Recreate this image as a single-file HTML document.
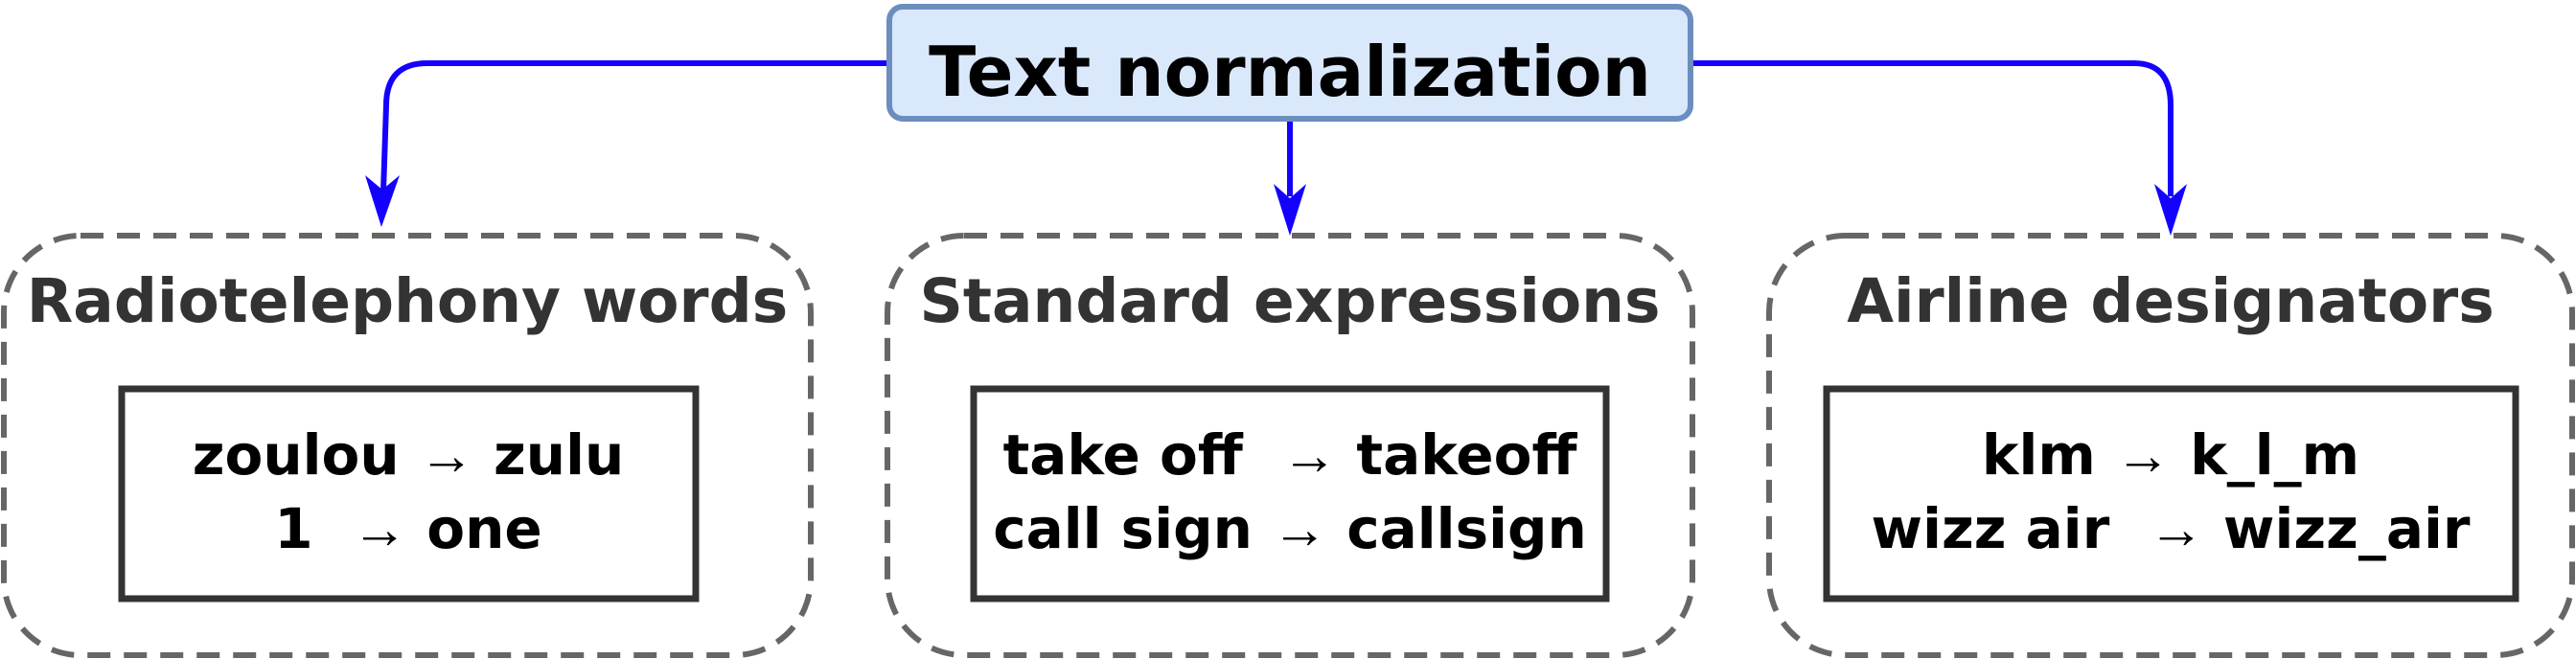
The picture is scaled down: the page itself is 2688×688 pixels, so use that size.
<!DOCTYPE html>
<html><head><meta charset="utf-8"><style>
html,body{margin:0;padding:0;background:#fff}
svg{display:block}
text{font-family:"DejaVu Sans","Liberation Sans",sans-serif;font-weight:bold;white-space:pre}
.ar{font-weight:normal;font-family:"Liberation Serif",serif}
</style></head><body>
<svg width="2688" height="688" viewBox="0 0 2688 688" xmlns="http://www.w3.org/2000/svg">
<g fill="none" stroke="#666" stroke-width="6" stroke-dasharray="24 14">
<rect x="4" y="246" width="842" height="438" rx="80"/>
<rect x="926" y="246" width="840" height="438" rx="80"/>
<rect x="1846" y="246" width="838" height="438" rx="80"/>
</g>
<g fill="#333" font-size="63" text-anchor="middle">
<text x="425" y="336">Radiotelephony words</text>
<text x="1346" y="336">Standard expressions</text>
<text x="2265" y="336">Airline designators</text>
</g>
<g fill="#fff" stroke="#333" stroke-width="7">
<rect x="127" y="406" width="599" height="219"/>
<rect x="1016" y="406" width="660" height="219"/>
<rect x="1906" y="406" width="719" height="219"/>
</g>
<g fill="#000" font-size="58" text-anchor="middle">
<text x="426" y="495">zoulou <tspan class="ar">→</tspan> zulu</text>
<text x="426" y="572">1  <tspan class="ar">→</tspan> one</text>
<text x="1346" y="495">take off  <tspan class="ar">→</tspan> takeoff</text>
<text x="1346" y="572">call sign <tspan class="ar">→</tspan> callsign</text>
<text x="2265" y="495">klm <tspan class="ar">→</tspan> k_l_m</text>
<text x="2265" y="572">wizz air  <tspan class="ar">→</tspan> wizz_air</text>
</g>
<g fill="none" stroke="#1400ff" stroke-width="6">
<path d="M926 66 H446 Q403 66 403 110 L400 200"/>
<path d="M1346 125 V205"/>
<path d="M1766 66 H2227 Q2265 66 2265 110 V205"/>
</g>
<g fill="#1400ff">
<path d="M398 237 L381 183 L399 198 L417 183 Z"/>
<path d="M1346 246 L1329 192 L1346 207 L1363 192 Z"/>
<path d="M2265 246 L2248 192 L2265 207 L2282 192 Z"/>
</g>
<rect x="928" y="7" width="836" height="117" rx="14" fill="#dae8fc" stroke="#6c8ebf" stroke-width="6"/>
<text x="1346" y="100" font-size="72" text-anchor="middle" fill="#000">Text normalization</text>
</svg>
</body></html>
